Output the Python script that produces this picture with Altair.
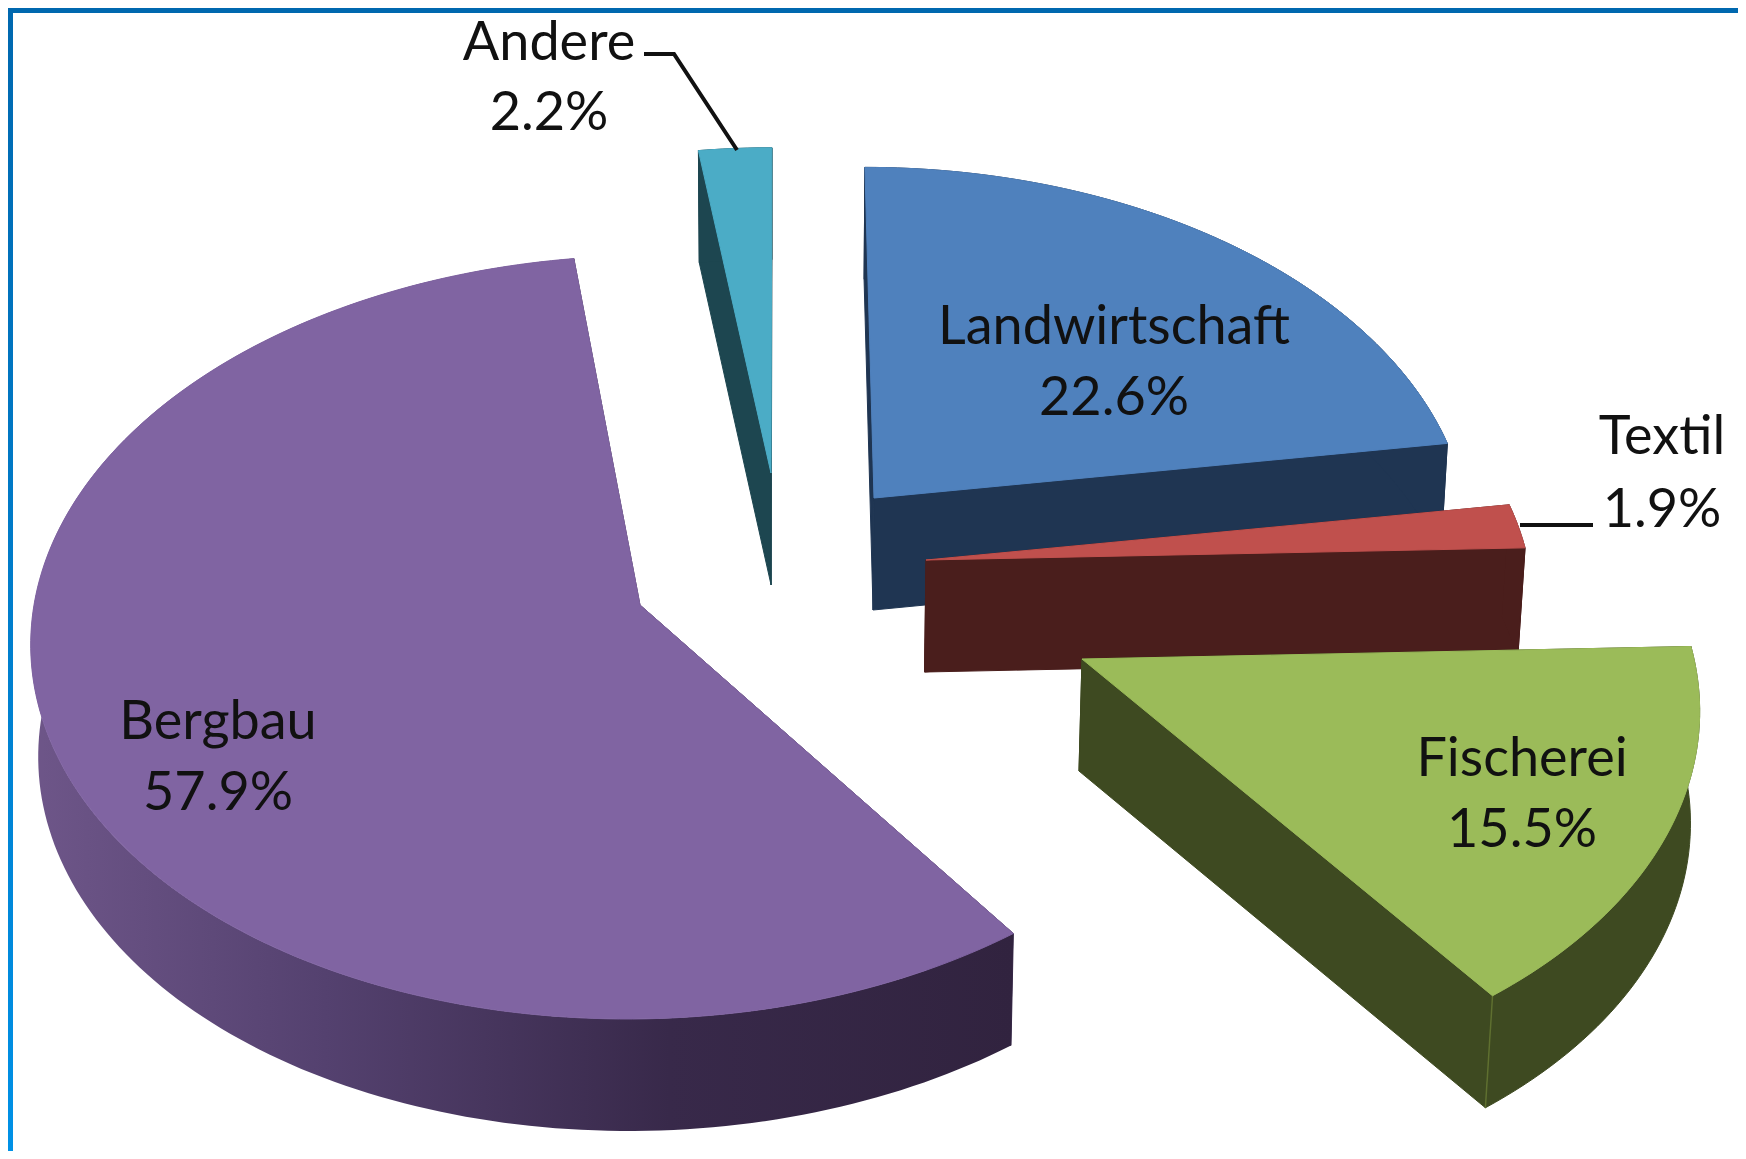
import math
import altair as alt

categories = ["Landwirtschaft", "Textil", "Fischerei", "Bergbau", "Andere"]
shares = [22.6, 1.9, 15.5, 57.9, 2.2]
top_colors = ["#4F81BD", "#C0504D", "#9BBB59", "#8064A2", "#4BACC6"]
wall_colors = ["#1F3552", "#4A1E1C", "#3E4A21", "#3A2B4C", "#1D4650"]

# layout (page pixels) - the sector angles come from the shares above
PAGE = 8
APEX = {"Landwirtschaft": (874, 498), "Textil": (926, 560), "Fischerei": (1082, 659),
        "Bergbau": (640, 605), "Andere": (771, 473)}
# per slice: horizontal radius, vertical radius, perspective strength, vanishing x
PERSPECTIVE = {"Landwirtschaft": (591, 366, 0.107, 780), "Textil": (602, 370, 0.107, 780),
               "Fischerei": (612, 381, 0.107, 919), "Bergbau": (606, 379, 0.0845, 780),
               "Andere": (590, 360, 0.107, 780)}
DEPTH, VANISH_X, SHRINK = 112, 780, 0.01
LABELS = {"Landwirtschaft": (1114, 328, 399), "Textil": (1662, 438, 511),
          "Fischerei": (1522, 760, 831), "Bergbau": (218, 723, 794), "Andere": (549, 44, 114)}
DRAW_ORDER = ["Andere", "Landwirtschaft", "Textil", "Fischerei", "Bergbau"]
FONT, FONT_SIZE = "Lato", 54
W, H = 1730, 1143


def rim_point(name, angle):
    ax, ay = APEX[name]
    rx, ry, k, x0 = PERSPECTIVE[name]
    u, v = math.sin(angle), -math.cos(angle)
    d = 1 - k * v
    return (x0 + (ax - x0 + rx * u) / d, ay + ry * v / d)


def lower(p):
    return (p[0] - (p[0] - VANISH_X) * SHRINK, p[1] + DEPTH)


def feature(points):
    ring = [[round(x - PAGE, 2), round(y - PAGE, 2)] for x, y in points]
    ring.append(ring[0])
    return {"type": "Feature", "properties": {}, "geometry": {"type": "Polygon", "coordinates": [ring]}}


def line_feature(points):
    return {"type": "Feature", "properties": {},
            "geometry": {"type": "LineString", "coordinates": [[x - PAGE, y - PAGE] for x, y in points]}}


def shape(features, **mark):
    return alt.Chart(alt.InlineData(values=features)).mark_geoshape(**mark).project(
        type="identity", scale=1, translate=[0, 0])


total = sum(shares)
rims, cum = {}, 0.0
for name, val in zip(categories, shares):
    a0 = cum / total * 2 * math.pi
    cum += val
    a1 = cum / total * 2 * math.pi
    n = max(4, int((a1 - a0) / 0.02))
    rims[name] = [rim_point(name, a0 + (a1 - a0) * i / n) for i in range(n + 1)]

purple_gradient = alt.Gradient(
    gradient="linear", x1=0, x2=1, y1=0, y2=0,
    stops=[alt.GradientStop(offset=0, color="#6E5689"),
           alt.GradientStop(offset=0.3, color="#54416F"),
           alt.GradientStop(offset=0.65, color="#38294A"),
           alt.GradientStop(offset=1, color="#31233F")])

layers = []
# frame of the picture
layers.append(shape([feature([(PAGE, PAGE), (W + PAGE, PAGE), (W + PAGE, PAGE + 5), (PAGE, PAGE + 5)])], fill="#0068AF"))
layers.append(shape([feature([(PAGE, PAGE), (PAGE + 5, PAGE), (PAGE + 5, H + PAGE), (PAGE, H + PAGE)])],
                    fill=alt.Gradient(gradient="linear", x1=0, x2=0, y1=0, y2=1,
                                      stops=[alt.GradientStop(offset=0, color="#0068AF"),
                                             alt.GradientStop(offset=1, color="#0091E6")])))

for name in DRAW_ORDER:
    i = categories.index(name)
    rim = rims[name]
    apex = APEX[name]
    wall = wall_colors[i]
    # radial faces
    for edge in (rim[0], rim[-1]):
        layers.append(shape([feature([apex, edge, lower(edge), lower(apex)])],
                            fill=wall, stroke=wall, strokeWidth=1))
    # outer face
    outer = feature(rim + [lower(p) for p in reversed(rim)])
    if name == "Bergbau":
        layers.append(shape([outer], fill=purple_gradient))
    else:
        layers.append(shape([outer], fill=wall, stroke=wall, strokeWidth=1))
    if name == "Fischerei":
        layers.append(shape([line_feature([rim[-1], lower(rim[-1])])], filled=False,
                            stroke="#5F7030", strokeWidth=1.5))
    # top face
    layers.append(shape([feature([apex] + rim)], fill=top_colors[i], stroke=top_colors[i], strokeWidth=1))

# leader lines
layers.append(shape([line_feature([(644, 54), (674, 54), (737, 150)])], filled=False, stroke="#111111", strokeWidth=4))
layers.append(shape([line_feature([(1520, 525), (1593, 525)])], filled=False, stroke="#111111", strokeWidth=4))

rows = []
for name, val in zip(categories, shares):
    x, y1, y2 = LABELS[name]
    rows.append({"t": name, "x": x - PAGE, "y": y1 - PAGE})
    rows.append({"t": f"{val}%", "x": x - PAGE, "y": y2 - PAGE})

text = alt.Chart(alt.Data(values=rows)).mark_text(
    font=FONT, fontSize=FONT_SIZE, color="#111111", align="center", baseline="middle"
).encode(x=alt.X("x:Q", scale=None), y=alt.Y("y:Q", scale=None), text="t:N")
layers.append(text)

chart = alt.layer(*layers).properties(width=W, height=H, padding=0, autosize="none", background="white"
).configure_view(stroke=None)

chart.save("out.html", embed_options={"renderer": "svg", "actions": False})
